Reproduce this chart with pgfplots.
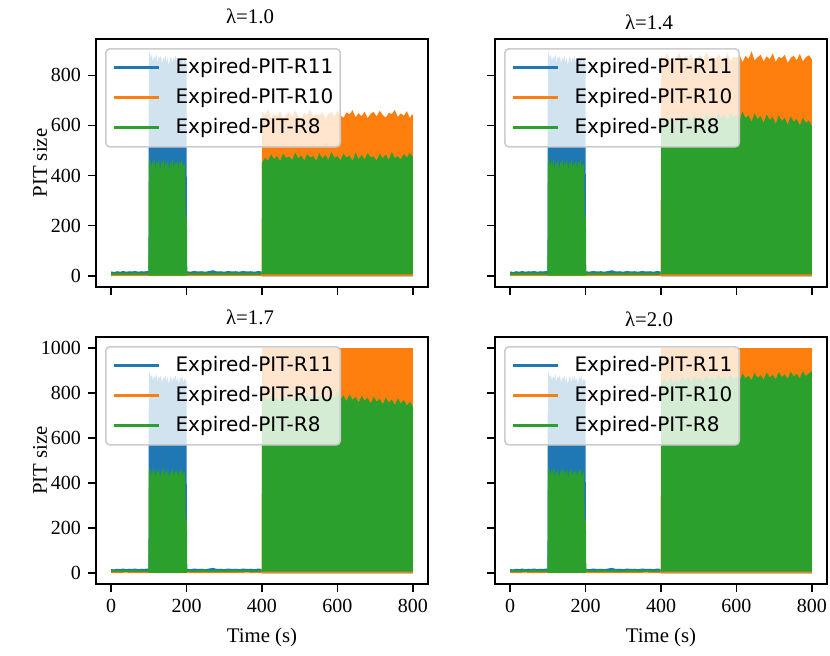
\documentclass[border=0pt]{standalone}
\usepackage{fontspec}
\setmainfont{Liberation Serif}
\newfontfamily\legendfont{DejaVu Sans}
\usepackage{pgfplots}
\usepackage{pgfplotstable}
\pgfplotsset{compat=1.18}
\definecolor{c0}{HTML}{1F77B4}
\definecolor{c1}{HTML}{FF7F0E}
\definecolor{c2}{HTML}{2CA02C}
\definecolor{legedge}{HTML}{CCCCCC}

% ---- shared data: R11 (blue), same in every panel
\pgfplotstableread[row sep=\\]{x y\\
0 17\\ 8 15\\ 16 18\\ 24 16\\ 32 19\\ 40 16\\ 48 18\\ 56 17\\ 64 19\\ 72 16\\ 80 18\\ 88 17\\ 96 19\\ 99 18\\
100 870\\ 102 900\\ 105 868\\ 108 884\\ 111 855\\ 114 878\\ 117 862\\ 120 886\\ 123 850\\ 126 874\\ 129 866\\ 132 880\\
135 846\\ 138 872\\ 141 860\\ 144 878\\ 147 852\\ 150 870\\ 153 838\\ 156 866\\ 159 876\\ 162 848\\ 165 870\\ 168 858\\
171 880\\ 174 852\\ 177 868\\ 180 840\\ 183 872\\ 186 860\\ 189 876\\ 192 846\\ 195 866\\ 198 856\\ 200 850\\
201 18\\ 210 16\\ 220 19\\ 230 17\\ 240 18\\ 250 16\\ 260 19\\ 270 22\\ 280 17\\ 290 18\\ 300 16\\ 310 19\\ 320 17\\
330 18\\ 340 16\\ 350 19\\ 360 17\\ 370 18\\ 380 16\\ 390 19\\ 399 17\\
400 6\\ 450 4\\ 500 7\\ 550 5\\ 600 6\\ 650 4\\ 700 7\\ 750 5\\ 800 6\\
800 -3\\ 400 -3\\ 399 9\\ 201 9\\ 200 0\\ 100 0\\ 99 9\\ 0 9\\
}\blueT

% ---- shared data: R8 (green), 0-400 s
\pgfplotstableread[row sep=\\]{x y\\
0 12\\ 10 10\\ 20 13\\ 30 11\\ 40 12\\ 50 10\\ 60 13\\ 70 11\\ 80 12\\ 90 10\\ 99 12\\
100 455\\ 103 470\\ 106 430\\ 109 462\\ 112 440\\ 115 468\\ 118 425\\ 121 458\\ 124 445\\ 127 466\\ 130 420\\ 133 455\\
136 448\\ 139 470\\ 142 432\\ 145 460\\ 148 440\\ 151 465\\ 154 418\\ 157 452\\ 160 446\\ 163 468\\ 166 428\\ 169 458\\
172 442\\ 175 462\\ 178 425\\ 181 455\\ 184 447\\ 187 466\\ 190 430\\ 193 452\\ 196 440\\ 198 236\\ 201 236\\
202 12\\ 220 10\\ 240 13\\ 260 11\\ 280 12\\ 300 10\\ 320 13\\ 340 11\\ 360 12\\ 380 10\\ 399 12\\
399 3\\ 202 3\\ 201 0\\ 100 0\\ 99 3\\ 0 3\\
}\greenE

% ---- R10 (orange) per panel
\pgfplotstableread[row sep=\\]{x y\\
0 4\\ 40 2\\ 80 5\\ 120 3\\ 160 4\\ 200 2\\ 240 5\\ 280 3\\ 320 4\\ 360 2\\ 399 4\\
400 655\\ 408 640\\ 416 662\\ 424 630\\ 432 648\\ 440 636\\ 448 658\\ 456 628\\ 464 645\\ 472 652\\ 480 634\\ 488 660\\
496 640\\ 504 626\\ 512 650\\ 520 642\\ 528 664\\ 536 632\\ 544 648\\ 552 638\\ 560 656\\ 568 627\\ 576 646\\ 584 653\\
592 635\\ 600 658\\ 608 641\\ 616 630\\ 624 652\\ 632 644\\ 640 661\\ 648 633\\ 656 649\\ 664 637\\ 672 655\\ 680 629\\
688 647\\ 696 654\\ 704 636\\ 712 659\\ 720 642\\ 728 631\\ 736 650\\ 744 645\\ 752 662\\ 760 634\\ 768 648\\ 776 639\\
784 657\\ 792 630\\ 798 645\\ 800 640\\
800 -2\\ 0 -2\\
}\orangeA
\pgfplotstableread[row sep=\\]{x y\\
0 4\\ 40 2\\ 80 5\\ 120 3\\ 160 4\\ 200 2\\ 240 5\\ 280 3\\ 320 4\\ 360 2\\ 399 4\\
400 880\\ 408 862\\ 416 890\\ 424 858\\ 432 874\\ 440 866\\ 448 892\\ 456 855\\ 464 878\\ 472 868\\ 480 886\\ 488 852\\
496 872\\ 504 880\\ 512 860\\ 520 894\\ 528 866\\ 536 876\\ 544 858\\ 552 884\\ 560 870\\ 568 862\\ 576 890\\ 584 856\\
592 874\\ 600 868\\ 608 884\\ 616 852\\ 624 878\\ 632 866\\ 640 896\\ 648 860\\ 656 872\\ 664 882\\ 672 856\\ 680 876\\
688 864\\ 696 888\\ 704 854\\ 712 874\\ 720 868\\ 728 882\\ 736 850\\ 744 870\\ 752 878\\ 760 860\\ 768 886\\ 776 856\\
784 872\\ 792 880\\ 800 864\\
800 -2\\ 0 -2\\
}\orangeB
\pgfplotstableread[row sep=\\]{x y\\
0 4\\ 40 2\\ 80 5\\ 120 3\\ 160 4\\ 200 2\\ 240 5\\ 280 3\\ 320 4\\ 360 2\\ 399 4\\
400 1000\\ 500 1000\\ 600 1000\\ 700 1000\\ 800 1000\\
800 -2\\ 0 -2\\
}\orangeC

% ---- R8 (green) 400-800 s per panel
\pgfplotstableread[row sep=\\]{x y\\
400 452\\ 408 470\\ 416 460\\ 424 484\\ 432 466\\ 440 478\\ 448 458\\ 456 488\\ 464 470\\ 472 476\\ 480 462\\ 488 492\\
496 468\\ 504 480\\ 512 460\\ 520 486\\ 528 472\\ 536 478\\ 544 458\\ 552 490\\ 560 468\\ 568 482\\ 576 462\\ 584 494\\
592 470\\ 600 478\\ 608 460\\ 616 488\\ 624 472\\ 632 480\\ 640 458\\ 648 492\\ 656 466\\ 664 482\\ 672 464\\ 680 490\\
688 472\\ 696 476\\ 704 460\\ 712 488\\ 720 468\\ 728 484\\ 736 462\\ 744 494\\ 752 470\\ 760 478\\ 768 464\\ 776 486\\
784 472\\ 792 490\\ 800 474\\
800 5\\ 400 5\\
}\greenA
\pgfplotstableread[row sep=\\]{x y\\
400 610\\ 408 628\\ 416 605\\ 424 636\\ 432 618\\ 440 630\\ 448 608\\ 456 640\\ 464 622\\ 472 634\\ 480 612\\ 488 645\\
496 625\\ 504 638\\ 512 615\\ 520 648\\ 528 628\\ 536 640\\ 544 618\\ 552 652\\ 560 630\\ 568 642\\ 576 620\\ 584 650\\
592 632\\ 600 644\\ 608 618\\ 616 655\\ 624 630\\ 632 640\\ 640 615\\ 648 648\\ 656 626\\ 664 638\\ 672 610\\ 680 644\\
688 622\\ 696 634\\ 704 606\\ 712 640\\ 720 618\\ 728 630\\ 736 604\\ 744 636\\ 752 614\\ 760 626\\ 768 600\\ 776 630\\
784 610\\ 792 620\\ 800 598\\
800 5\\ 400 5\\
}\greenB
\pgfplotstableread[row sep=\\]{x y\\
400 770\\ 408 785\\ 416 762\\ 424 790\\ 432 772\\ 440 782\\ 448 758\\ 456 794\\ 464 775\\ 472 786\\ 480 764\\ 488 798\\
496 778\\ 504 788\\ 512 766\\ 520 800\\ 528 780\\ 536 790\\ 544 768\\ 552 796\\ 560 776\\ 568 786\\ 576 762\\ 584 798\\
592 780\\ 600 808\\ 608 772\\ 616 790\\ 624 764\\ 632 794\\ 640 770\\ 648 784\\ 656 758\\ 664 788\\ 672 768\\ 680 780\\
688 754\\ 696 784\\ 704 762\\ 712 776\\ 720 750\\ 728 780\\ 736 758\\ 744 772\\ 752 748\\ 760 776\\ 768 754\\ 776 770\\
784 745\\ 792 762\\ 800 740\\
800 5\\ 400 5\\
}\greenC
\pgfplotstableread[row sep=\\]{x y\\
400 848\\ 408 866\\ 416 842\\ 424 870\\ 432 852\\ 440 864\\ 448 846\\ 456 874\\ 464 856\\ 472 868\\ 480 848\\ 488 878\\
496 858\\ 504 870\\ 512 850\\ 520 880\\ 528 860\\ 536 872\\ 544 852\\ 552 884\\ 560 862\\ 568 874\\ 576 856\\ 584 886\\
592 864\\ 600 876\\ 608 856\\ 616 888\\ 624 866\\ 632 878\\ 640 858\\ 648 890\\ 656 868\\ 664 880\\ 672 860\\ 680 892\\
688 870\\ 696 882\\ 704 862\\ 712 894\\ 720 872\\ 728 884\\ 736 864\\ 744 896\\ 752 874\\ 760 886\\ 768 866\\ 776 898\\
784 876\\ 792 888\\ 800 900\\
800 5\\ 400 5\\
}\greenD

\pgfplotsset{
  panel/.style={
    scale only axis, width=166pt,
    xmin=-40, xmax=840,
    xtick={0,200,400,600,800},
    tick align=outside, major tick length=4pt,
    xtick pos=bottom, ytick pos=left,
    every tick/.style={black, line width=0.8pt},
    axis line style={black, line width=0.8pt},
    minor tick num=0,
    ticklabel style={font=\fontsize{10}{12}\selectfont},
    /pgf/number format/assume math mode=true,
    /pgf/number format/1000 sep={},
    label style={font=\fontsize{10.4}{12}\selectfont},
    title style={at={(axis description cs:0.5,1)}, anchor=center, xshift=-6pt, font=\fontsize{10.4}{12}\selectfont},
    legend cell align=left,
    legend image code/.code={\draw[#1] (0pt,0pt) -- (22.5pt,0pt);},
    legend style={at={(axis description cs:0,1)}, anchor=north west, xshift=4.5pt, yshift=-4.5pt,
      draw=legedge, line width=0.8pt, fill=white, fill opacity=0.8, draw opacity=1, text opacity=1,
      rounded corners=2pt, font=\legendfont\fontsize{10}{12}\selectfont,
      inner xsep=3.5pt, inner ysep=2pt, column sep=7.5pt, row sep=0pt,
      nodes={inner sep=0pt, text height=10.5pt, text depth=4.5pt}},
  },
  toprow/.style={height=124pt, ymin=-45, ymax=945, ytick={0,200,400,600,800}, xticklabels={}},
  botrow/.style={height=123.5pt, ymin=-50, ymax=1050, ytick={0,200,400,600,800,1000},
    xlabel={Time (s)}, xlabel style={at={(axis description cs:0.5,-0.2146)}, anchor=center}},
  leftcol/.style={ylabel={PIT size}, ylabel style={at={(axis description cs:-0.1687,0.5)}, anchor=center}},
  rightcol/.style={yticklabels={}},
}

\newcommand{\legendentries}{%
  \addlegendimage{c0, line width=1.4pt}\addlegendentry{Expired-PIT-R11}
  \addlegendimage{c1, line width=1.4pt}\addlegendentry{Expired-PIT-R10}
  \addlegendimage{c2, line width=1.4pt}\addlegendentry{Expired-PIT-R8}
}

\begin{document}
\begin{tikzpicture}
\useasboundingbox (0,0) rectangle (415pt,327.5pt);

% top-left
\begin{axis}[panel, toprow, leftcol, at={(48pt,184pt)}, anchor=south west,
  title={λ=1.0}, title style={yshift=5.4pt}]
\legendentries
\addplot[fill=c0, draw=none, forget plot] table[x=x,y=y] {\blueT} -- cycle;
\addplot[fill=c1, draw=none, forget plot] table[x=x,y=y] {\orangeA} -- cycle;
\addplot[fill=c2, draw=none, forget plot] table[x=x,y=y] {\greenE} -- cycle;
\addplot[fill=c2, draw=none, forget plot] table[x=x,y=y] {\greenA} -- cycle;
\end{axis}

% top-right
\begin{axis}[panel, toprow, rightcol, at={(247.5pt,184pt)}, anchor=south west,
  title={λ=1.4}, title style={yshift=2.5pt}]
\legendentries
\addplot[fill=c0, draw=none, forget plot] table[x=x,y=y] {\blueT} -- cycle;
\addplot[fill=c1, draw=none, forget plot] table[x=x,y=y] {\orangeB} -- cycle;
\addplot[fill=c2, draw=none, forget plot] table[x=x,y=y] {\greenE} -- cycle;
\addplot[fill=c2, draw=none, forget plot] table[x=x,y=y] {\greenB} -- cycle;
\end{axis}

% bottom-left
\begin{axis}[panel, botrow, leftcol, at={(48pt,35.5pt)}, anchor=south west,
  title={λ=1.7}, title style={yshift=3.8pt}]
\legendentries
\addplot[fill=c0, draw=none, forget plot] table[x=x,y=y] {\blueT} -- cycle;
\addplot[fill=c1, draw=none, forget plot] table[x=x,y=y] {\orangeC} -- cycle;
\addplot[fill=c2, draw=none, forget plot] table[x=x,y=y] {\greenE} -- cycle;
\addplot[fill=c2, draw=none, forget plot] table[x=x,y=y] {\greenC} -- cycle;
\end{axis}

% bottom-right
\begin{axis}[panel, botrow, rightcol, at={(247.5pt,35.5pt)}, anchor=south west,
  title={λ=2.0}, title style={yshift=2.8pt}]
\legendentries
\addplot[fill=c0, draw=none, forget plot] table[x=x,y=y] {\blueT} -- cycle;
\addplot[fill=c1, draw=none, forget plot] table[x=x,y=y] {\orangeC} -- cycle;
\addplot[fill=c2, draw=none, forget plot] table[x=x,y=y] {\greenE} -- cycle;
\addplot[fill=c2, draw=none, forget plot] table[x=x,y=y] {\greenD} -- cycle;
\end{axis}
\end{tikzpicture}
\end{document}
